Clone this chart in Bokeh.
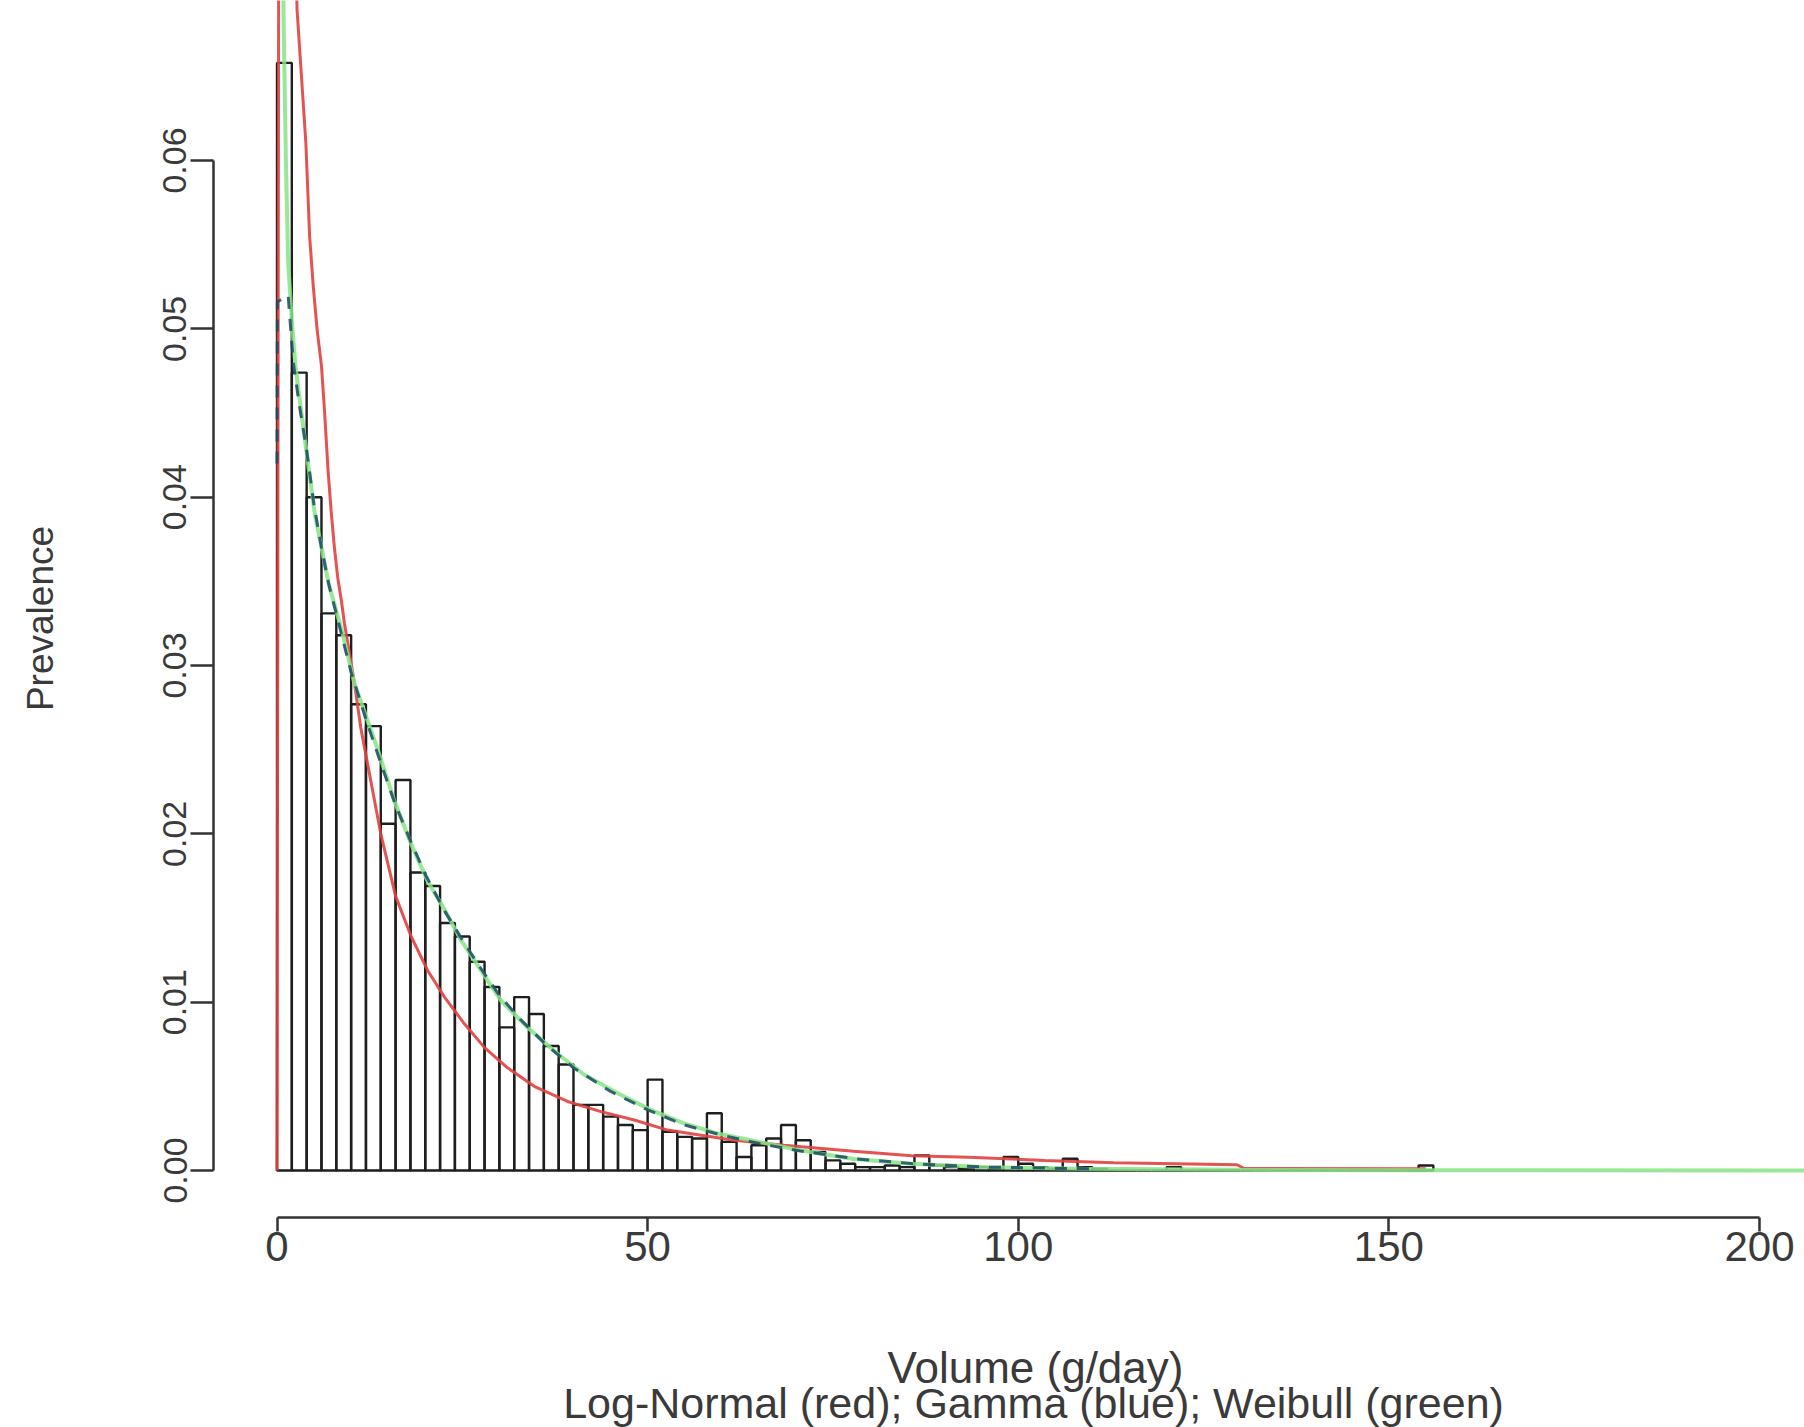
import math
from bokeh.plotting import figure
from bokeh.models import Range1d, FixedTicker, NumeralTickFormatter, Label, ColumnDataSource
from bokeh.embed import file_html
from bokeh.resources import INLINE

# ---------------- data ----------------
bin_width = 2
bin_left = list(range(0, 156, 2))
bin_height = [
    0.0658, 0.0474, 0.0400, 0.0331, 0.0318, 0.0277, 0.0264, 0.0206, 0.0232, 0.0177,
    0.0169, 0.0147, 0.0139, 0.0124, 0.0109, 0.0085, 0.0103, 0.0093, 0.0074, 0.0063,
    0.0039, 0.0039, 0.0032, 0.0027, 0.0024, 0.0054, 0.0023, 0.0020, 0.0019, 0.0034,
    0.0017, 0.0008, 0.0015, 0.0019, 0.0027, 0.0018, 0.0011, 0.0006, 0.0004, 0.0002,
    0.0002, 0.0003, 0.0002, 0.0009, 0.0003, 0.0002, 0.0001, 0.0002, 0.0001, 0.0008,
    0.0004, 0.0002, 0.0001, 0.0007, 0.0002, 0.0001, 0.0, 0.0, 0.0, 0.0,
    0.0002, 0.0, 0.0, 0.0, 0.0, 0.0, 0.0, 0.0, 0.0, 0.0,
    0.0, 0.0, 0.0, 0.0, 0.0, 0.0, 0.0, 0.0003,
]

lognormal_x = [0.0, 0.3, 1.0, 2.0, 2.7, 3.3, 3.9, 4.4, 4.9, 5.4, 6.0, 6.4, 6.9, 7.3, 7.7,
               8.2, 8.7, 9.1, 10.4, 11.3, 12.2, 14.0, 16.0, 18.1, 20.3, 22.6, 25.3, 28.0,
               31.1, 34.7, 39.2, 43.7, 48.2, 52.7, 57.2, 61.7, 68.4, 77.8, 85.6, 93.3,
               103.6, 112.9, 129.5, 130.5, 155.0]
lognormal_y = [0.0, 0.095, 0.11, 0.085, 0.0690, 0.0650, 0.0610, 0.0555, 0.0525, 0.0500,
               0.0478, 0.0452, 0.0415, 0.0392, 0.0372, 0.0352, 0.0338, 0.0325, 0.0291,
               0.0263, 0.0242, 0.0200, 0.0163, 0.0139, 0.0119, 0.0103, 0.0087, 0.0073,
               0.0061, 0.0050, 0.0041, 0.0035, 0.0030, 0.0024, 0.0021, 0.0018, 0.0015,
               0.00115, 0.00087, 0.00078, 0.0006, 0.00046, 0.00034, 0.00012, 0.00010]

gamma_x = [0.0, 0.05, 1.5, 2.2, 3.0, 4.0, 5.0, 6.0, 7.0, 8.5, 10.0, 12.0, 14.0, 16.0,
           18.0, 20.0, 22.5, 25.0, 27.5, 30.0, 33.0, 36.0, 40.0, 45.0, 50.0, 55.0, 60.0,
           65.0, 70.0, 78.0, 86.0, 96.0, 110.0]
gamma_y = [0.042, 0.0516, 0.0520, 0.0480, 0.0455, 0.0428, 0.0395, 0.0370, 0.0348, 0.0322,
           0.0296, 0.0268, 0.0242, 0.0217, 0.0196, 0.0176, 0.0155, 0.0137, 0.0120, 0.0104,
           0.0089, 0.0076, 0.0061, 0.0047, 0.0036, 0.0027, 0.0021, 0.0016, 0.0012, 0.0007,
           0.0004, 0.0002, 0.0001]

weibull_x = [0.15, 0.5, 0.9, 1.2, 1.5, 2.0, 2.5, 3.8, 5.1, 7.0, 8.8, 10.4, 12.0, 13.6,
             15.8, 18.1, 20.3, 22.6, 24.8, 27.5, 30.2, 33.8, 37.4, 41.4, 45.9, 50.4, 54.9,
             59.4, 63.9, 70.5, 77.8, 85.6, 95.9, 108.8, 130.0, 155.0, 206.0]
weibull_y = [0.12, 0.085, 0.068, 0.060, 0.054, 0.0505, 0.0477, 0.0433, 0.0390, 0.0348,
             0.0320, 0.0290, 0.0270, 0.0250, 0.0220, 0.0194, 0.0172, 0.0155, 0.0137,
             0.0119, 0.0101, 0.0085, 0.0071, 0.0057, 0.0046, 0.0036, 0.0028, 0.0022,
             0.0018, 0.0012, 0.00068, 0.0004, 0.0002, 0.0001, 0.00004, 0.00002, 0.0]

x_ticks = [0, 50, 100, 150, 200]
y_ticks = [0.0, 0.01, 0.02, 0.03, 0.04, 0.05, 0.06]
x_title = "Volume (g/day)"
sub_title = "Log-Normal (red); Gamma (blue); Weibull (green)"
y_title = "Prevalence"

# ---------------- figure ----------------
FONT = "Liberation Sans"
TXT = "#3a3a3a"
AX = "#333333"

W, H = 1804, 1427
# pixel scale of the reference: 0 -> x=276.5 px, 7.4125 px per unit; 0.00 -> y=1170 px, 16833 px per unit
x0_px, x_scale = 276.5, 7.4125
y0_px, y_scale = 1170.0, 16833.0

p = figure(width=W, height=H,
           x_range=Range1d(-x0_px / x_scale, (W - x0_px) / x_scale),
           y_range=Range1d(-(H - y0_px) / y_scale, y0_px / y_scale),
           output_backend="svg", toolbar_location=None,
           min_border_left=0, min_border_right=0, min_border_top=0, min_border_bottom=0)
p.outline_line_color = None
p.xgrid.visible = False
p.ygrid.visible = False
p.background_fill_color = "white"
p.border_fill_color = "white"

# histogram
src = ColumnDataSource(dict(
    left=bin_left,
    right=[b + bin_width for b in bin_left],
    top=bin_height,
))
p.quad(left="left", right="right", top="top", bottom=0, source=src,
       fill_alpha=0, line_color="#1e1e1e", line_width=2.4)

# fitted curves
p.line(lognormal_x, lognormal_y, line_color="#e0403f", line_width=3, line_alpha=0.9)
p.line(weibull_x, weibull_y, line_color="#86e486", line_width=4, line_alpha=0.85)
p.line(gamma_x, gamma_y, line_color="#1b4a66", line_width=3, line_alpha=0.85,
       line_dash="12 10")

# axes (R style: detached lines spanning the ticks only)
xa = p.xaxis[0]
xa.fixed_location = -(1217 - y0_px) / y_scale
xa.ticker = FixedTicker(ticks=x_ticks)
xa.bounds = (0, 200)
xa.axis_line_width = 2.5
xa.axis_line_color = AX
xa.major_tick_line_width = 2.5
xa.major_tick_line_color = AX
xa.major_tick_out = 14
xa.major_tick_in = 0
xa.minor_tick_line_color = None
xa.major_label_text_font = FONT
xa.major_label_text_font_size = "42px"
xa.major_label_text_color = TXT
xa.major_label_standoff = 0

ya = p.yaxis[0]
ya.fixed_location = (213 - x0_px) / x_scale
ya.ticker = FixedTicker(ticks=y_ticks)
ya.formatter = NumeralTickFormatter(format="0.00")
ya.bounds = (0, 0.06)
ya.axis_line_width = 2.5
ya.axis_line_color = AX
ya.major_tick_line_width = 2.5
ya.major_tick_line_color = AX
ya.major_tick_out = 23
ya.major_tick_in = 0
ya.minor_tick_line_color = None
ya.major_label_orientation = "vertical"
ya.major_label_text_font = FONT
ya.major_label_text_font_size = "34px"
ya.major_label_text_color = TXT
ya.major_label_standoff = 4

# titles
p.add_layout(Label(x=(40 - x0_px) / x_scale, y=(y0_px - 618) / y_scale, text=y_title,
                   angle=math.pi / 2, text_align="center", text_baseline="middle",
                   text_font=FONT, text_font_size="37px", text_color=TXT))
p.add_layout(Label(x=(1035 - x0_px) / x_scale, y=(y0_px - 1367) / y_scale, text=x_title,
                   text_align="center", text_baseline="middle",
                   text_font=FONT, text_font_size="44px", text_color=TXT))
p.add_layout(Label(x=(1033 - x0_px) / x_scale, y=(y0_px - 1402) / y_scale, text=sub_title,
                   text_align="center", text_baseline="middle",
                   text_font=FONT, text_font_size="43px", text_color=TXT))

open("out.html", "w").write(file_html(p, INLINE))
